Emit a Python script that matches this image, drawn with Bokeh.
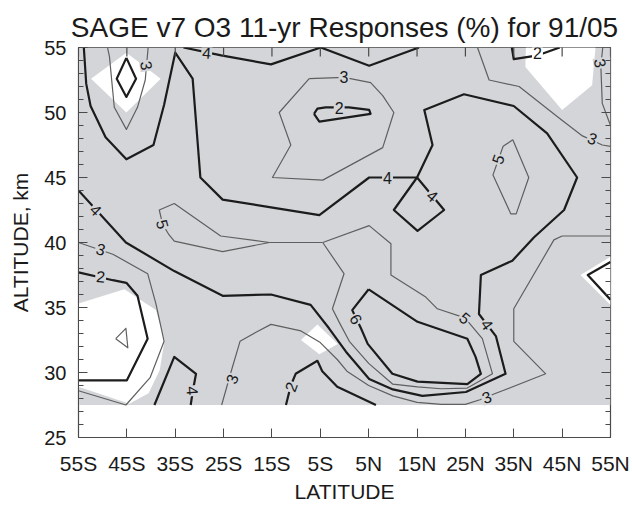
import math
from bokeh.plotting import figure
from bokeh.models import FixedTicker, Range1d, ColumnDataSource
from bokeh.core.properties import value
from bokeh.embed import file_html
from bokeh.resources import INLINE

# ---------------- axes ----------------
lat_lo, lat_hi = -55, 55
alt_lo, alt_hi = 25, 55
lat_ticks = [-55, -45, -35, -25, -15, -5, 5, 15, 25, 35, 45, 55]
lat_labels = ["55S", "45S", "35S", "25S", "15S", "5S", "5N", "15N", "25N", "35N", "45N", "55N"]
alt_ticks = [25, 30, 35, 40, 45, 50, 55]
alt_minor = list(range(25, 56))

# ---------------- significance shading (grey where significant) ----------------
shade_lat = [-55, 55]
shade_alt = [27.5, 55]
# not-significant (white) patches
w1_lat = [-52.4, -45.1, -38.0, -45.1]
w1_alt = [52.6, 54.6, 52.6, 50.0]
w2_lat = [37.5, 37.4, 45.0, 51.2, 51.9]
w2_alt = [55.0, 53.5, 50.2, 52.1, 55.0]
w3_lat = [-55.0, -45.5, -39.0, -37.2, -38.2, -40.5, -44.5, -55.0]
w3_alt = [35.3, 36.4, 34.8, 32.5, 30.2, 28.4, 27.6, 28.9]
w4_lat = [-9.0, -5.6, -1.4, -5.2]
w4_alt = [32.5, 33.7, 32.2, 31.4]
w5_lat = [55.0, 48.8, 55.0]
w5_alt = [38.9, 37.5, 35.2]

# ---------------- contour lines (response in %) ----------------
# level 1
c1_lat = [-47.3, -45.2, -44.8, -47.3]
c1_alt = [32.6, 33.4, 31.9, 32.6]

# level 2
c2_tl_lat = [-45.1, -43.1, -45.1, -47.1, -45.1]
c2_tl_alt = [54.2, 52.6, 51.2, 52.6, 54.2]
c2_mid_lat = [-6.3, -5.6, -3.9, 0.9, 5.1, 5.4, -5.2, -6.3]
c2_mid_alt = [49.9, 50.3, 50.4, 50.4, 50.2, 49.9, 49.3, 49.9]
c2_tr_lat = [34.6, 35.0, 40.0, 44.5]
c2_tr_alt = [55.0, 54.1, 54.4, 55.0]
c2_left_lat = [-55.0, -47.9, -45.1, -42.8, -40.7, -45.0, -55.0]
c2_left_alt = [37.7, 37.1, 36.9, 35.9, 32.6, 29.4, 29.4]
c2_bot_lat = [-12.1, -11.1, -10.1, -5.6, -4.6, -1.5, 6.5]
c2_bot_alt = [27.5, 29.0, 29.9, 30.9, 30.1, 28.9, 27.5]
c2_right_lat = [55.0, 50.3, 55.0]
c2_right_alt = [38.5, 37.5, 35.6]

# level 3
c3_tl_lat = [-49.0, -48.6, -47.6, -45.1, -42.8, -41.2, -40.6]
c3_tl_alt = [55.0, 54.3, 50.4, 48.7, 50.4, 52.5, 55.0]
c3_mid_lat = [-7.3, -0.1, 5.4, 7.9, 10.2, 7.9, -4.5, -14.9, -11.1, -13.5, -7.3]
c3_mid_alt = [52.6, 52.7, 52.3, 51.3, 50.0, 47.3, 44.8, 45.0, 47.5, 50.0, 52.6]
c3_tra_lat = [27.5, 29.9, 36.1, 44.3, 49.2, 53.3, 55.0]
c3_tra_alt = [55.0, 52.5, 52.0, 49.6, 48.2, 47.5, 47.4]
c3_trb_lat = [53.4, 53.0, 53.3, 55.0]
c3_trb_alt = [55.0, 53.6, 50.7, 49.0]
c3_left_lat = [-55.0, -45.2, -40.2, -37.3, -39.0, -40.7, -47.9, -55.0]
c3_left_alt = [28.6, 27.5, 29.6, 32.4, 35.3, 37.6, 39.1, 40.0]
c3_low_lat = [-25.4, -23.5, -21.6, -18.3, -15.2, -9.0, -5.0, -1.5, 0.5, 5.0, 10.0, 15.0,
              20.0, 25.0, 28.0, 31.3, 41.6, 35.0, 35.0, 43.3, 45.0, 55.0]
c3_low_alt = [27.5, 30.0, 32.4, 33.1, 33.7, 33.2, 32.3, 31.0, 30.1, 29.0, 28.2, 27.7,
              27.55, 27.55, 27.9, 28.4, 29.9, 32.4, 34.9, 40.2, 40.5, 40.5]

# level 4
c4_main_lat = [-55.0, -45.2, -35.2, -25.2, -15.2, -7.0, -3.2, 0.3, 5.1, 10.0, 16.1, 25.1,
               33.3, 31.3, 27.8, 28.2, 34.7, 39.2, 45.4, 48.1, 41.9, 35.0, 24.7, 16.5,
               18.2, 15.0, 5.1, -5.2, -15.2, -25.2, -29.8, -31.4, -35.0, -37.3, -39.5,
               -45.1, -49.4, -52.5, -53.4, -53.9]
c4_main_alt = [44.0, 40.0, 37.8, 35.9, 36.0, 35.2, 33.4, 31.6, 29.5, 28.7, 28.2, 28.5,
               29.9, 32.8, 34.5, 37.5, 38.6, 40.4, 42.5, 45.0, 48.4, 50.5, 51.4, 50.2,
               47.5, 45.0, 45.0, 42.1, 42.7, 43.3, 45.0, 52.6, 54.6, 50.6, 47.5,
               46.4, 48.1, 50.5, 52.2, 55.0]
c4_top_lat = [-33.3, -25.5, -15.2, -4.9, 5.1, 15.4]
c4_top_alt = [55.0, 54.4, 53.7, 55.0, 53.6, 55.0]
c4_diam_lat = [15.0, 10.2, 15.1, 20.6, 15.0]
c4_diam_alt = [45.0, 42.5, 40.9, 42.5, 45.0]
c4_bl_lat = [-39.3, -35.2, -30.7, -31.4, -31.8]
c4_bl_alt = [27.5, 31.2, 29.9, 28.5, 27.5]

# level 5
c5_tongue_lat = [-36.3, -35.2, -25.2, -15.5, -25.6, -35.2, -38.3, -37.6, -36.3]
c5_tongue_alt = [40.6, 40.1, 39.3, 40.0, 40.5, 43.0, 42.5, 41.4, 40.6]
c5_link_lat = [-15.5, -4.5]
c5_link_alt = [40.0, 40.0]
c5_lobe_lat = [-4.5, 5.1, 9.6, 9.6, 16.8, 19.2, 24.9, 28.5, 30.6, 25.4, 20.0, 15.1, 10.0,
               5.0, 1.0, -1.0, -2.5, -0.1, -4.5]
c5_lobe_alt = [40.0, 41.3, 39.9, 37.5, 35.8, 34.9, 34.2, 32.6, 29.9, 28.8, 28.75, 28.9, 29.1,
               30.7, 32.4, 33.8, 34.9, 37.6, 40.0]
c5_loop_lat = [34.8, 32.8, 30.7, 34.4, 35.5, 38.1, 34.8]
c5_loop_alt = [47.9, 47.4, 45.2, 42.2, 42.2, 45.0, 47.9]

# level 6
c6_lat = [5.0, 1.6, 3.4, 4.8, 9.9, 15.1, 25.4, 28.2, 27.1, 25.4, 15.1, 5.0]
c6_alt = [36.4, 34.8, 33.4, 32.2, 29.9, 29.3, 29.1, 29.9, 31.2, 32.6, 33.9, 36.4]

# contour labels
lab_text = ["3", "3", "2", "4", "5", "4", "3", "2", "3", "4", "4", "2",
            "3", "2", "3", "5", "4", "5", "6", "4", "3"]
lab_lat = [-40.9, -50.4, -50.4, -51.4, -37.6, -28.5, -0.1, -1.1, -23.3, -31.4, 8.9, 39.9,
           52.9, -11.1, 51.3, 31.7, 18.2, 24.9, 2.4, 29.5, 29.4]
lab_alt = [53.6, 39.5, 37.4, 42.5, 41.4, 54.6, 52.7, 50.35, 29.5, 28.6, 45.0, 54.55,
           53.8, 28.9, 48.0, 46.4, 43.6, 34.2, 34.1, 33.7, 28.1]
lab_angle = [-80, -15, -5, -45, -75, -5, 0, 0, 70, -85, 0, 0,
             -80, 70, -20, 70, -40, -40, -60, -55, 20]

GRAY = "#d3d5d8"
THICK = "#1c1c1c"
THIN = "#5f5f5f"
AXC = "#4a4a4a"
FONT = "Liberation Sans"

p = figure(frame_width=532, frame_height=390,
           x_range=Range1d(lat_lo, lat_hi), y_range=Range1d(alt_lo, alt_hi),
           output_backend="svg", toolbar_location=None,
           min_border_left=78, min_border_right=20, min_border_top=47, min_border_bottom=66)
p.xgrid.visible = False
p.ygrid.visible = False
p.outline_line_color = AXC
p.outline_line_width = 1.2

# shading
p.quad(left=[shade_lat[0]], right=[shade_lat[1]], bottom=[shade_alt[0]], top=[shade_alt[1]],
       fill_color=GRAY, line_color=None)
p.patches([w1_lat, w2_lat, w3_lat, w4_lat, w5_lat], [w1_alt, w2_alt, w3_alt, w4_alt, w5_alt],
          fill_color="white", line_color=None)

thin_xs = [c1_lat, c3_tl_lat, c3_mid_lat, c3_tra_lat, c3_trb_lat, c3_left_lat, c3_low_lat,
           c5_tongue_lat, c5_link_lat, c5_lobe_lat, c5_loop_lat]
thin_ys = [c1_alt, c3_tl_alt, c3_mid_alt, c3_tra_alt, c3_trb_alt, c3_left_alt, c3_low_alt,
           c5_tongue_alt, c5_link_alt, c5_lobe_alt, c5_loop_alt]
p.multi_line(thin_xs, thin_ys, line_color=THIN, line_width=1.2, line_join="round")

thick_xs = [c2_tl_lat, c2_mid_lat, c2_tr_lat, c2_left_lat, c2_bot_lat, c2_right_lat,
            c4_main_lat, c4_top_lat, c4_diam_lat, c4_bl_lat, c6_lat]
thick_ys = [c2_tl_alt, c2_mid_alt, c2_tr_alt, c2_left_alt, c2_bot_alt, c2_right_alt,
            c4_main_alt, c4_top_alt, c4_diam_alt, c4_bl_alt, c6_alt]
p.multi_line(thick_xs, thick_ys, line_color=THICK, line_width=2.2, line_join="round")

lab_bg = ["white" if t == "2" and la > 35 else GRAY for t, la in zip(lab_text, lab_lat)]
src = ColumnDataSource(dict(x=lab_lat, y=lab_alt, text=lab_text, angle=lab_angle, bg=lab_bg))
p.text(x="x", y="y", text="text", angle="angle", angle_units="deg", source=src,
       text_font=value(FONT), text_font_size="16px", text_align="center",
       text_baseline="middle", text_color="#1a1a1a",
       background_fill_color="bg", padding=1)

# inward tick marks on the top and right frame edges (half of each dash is clipped)
p.scatter(x=lat_ticks, y=[alt_hi] * len(lat_ticks), marker="dash", size=18,
          angle=math.pi / 2, line_color=AXC, line_width=1.2)
p.scatter(x=[lat_hi] * len(alt_ticks), y=alt_ticks, marker="dash", size=18,
          line_color=AXC, line_width=1.2)
minor_only = [a for a in alt_minor if a not in alt_ticks]
p.scatter(x=[lat_hi] * len(minor_only), y=minor_only, marker="dash", size=10,
          line_color=AXC, line_width=1.2)

# axes
for ax in (p.xaxis, p.yaxis):
    ax.axis_line_color = AXC
    ax.major_tick_line_color = AXC
    ax.minor_tick_line_color = AXC
    ax.major_tick_in = 9
    ax.major_tick_out = 0
    ax.minor_tick_in = 5
    ax.minor_tick_out = 0
    ax.major_label_text_font = FONT
    ax.major_label_text_color = "#1a1a1a"
    ax.axis_label_text_font = FONT
    ax.axis_label_text_font_style = "normal"
    ax.axis_label_text_color = "#1a1a1a"
    ax.axis_label_text_font_size = "21px"

p.xaxis.ticker = FixedTicker(ticks=lat_ticks)
p.xaxis.major_label_overrides = {t: l for t, l in zip(lat_ticks, lat_labels)}
p.xaxis.major_label_text_font_size = "21px"
p.xaxis.major_label_standoff = 14
p.xaxis.axis_label = "LATITUDE"
p.xaxis.axis_label_standoff = 2

p.yaxis.ticker = FixedTicker(ticks=alt_ticks, minor_ticks=alt_minor)
p.yaxis.major_label_text_font_size = "20px"
p.yaxis.major_label_standoff = 12
p.yaxis.axis_label = "ALTITUDE, km"
p.yaxis.axis_label_standoff = 9

p.title.text = "SAGE v7 O3 11-yr Responses (%) for 91/05"
p.title.text_font = FONT
p.title.text_font_size = "28px"
p.title.text_font_style = "normal"
p.title.text_color = "#1a1a1a"
p.title.align = "center"
p.title.standoff = 10

open("out.html", "w").write(file_html(p, INLINE))
